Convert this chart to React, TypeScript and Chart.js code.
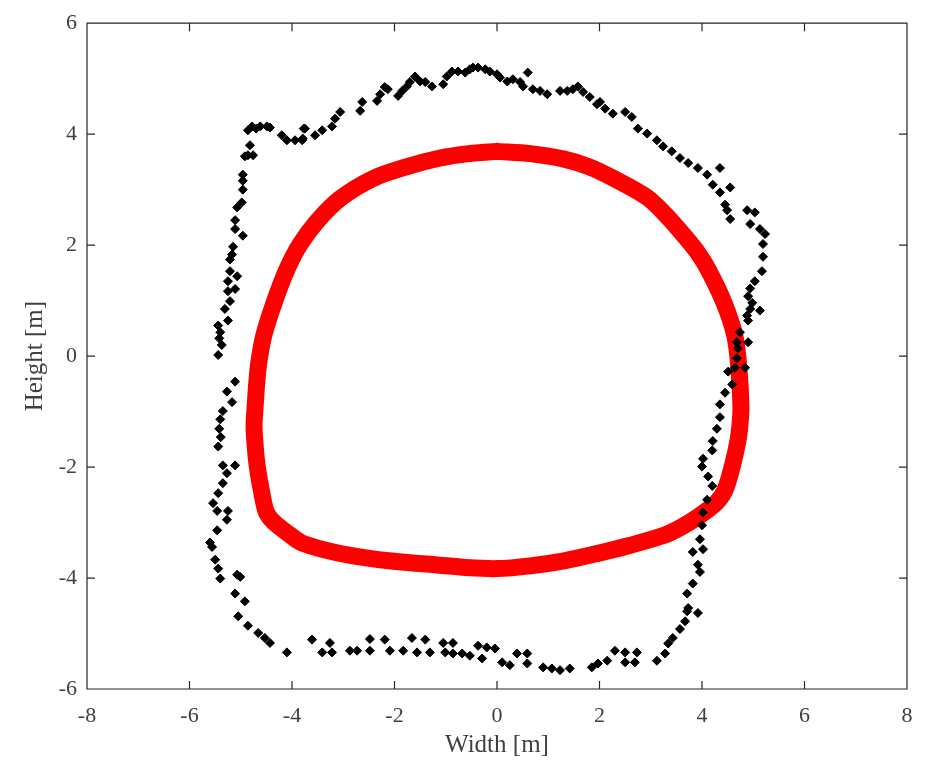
import React, { useEffect, useRef } from "react";
import { Chart, registerables } from "chart.js";

Chart.register(...registerables);

// Measured boundary points (black markers), width [m]
const measuredX: number[] = [
  -4.86, -4.78, -4.70, -4.62, -4.49, -4.43, -4.20, -4.10, -3.94, -3.80, -3.77, -3.55,
  -4.82, -4.86, -4.92, -4.76, -4.96, -4.96, -4.96, -4.98, -5.07, -5.11, -5.11, -4.96,
  -5.15, -5.17, -5.21, -5.21, -5.07, -5.25, -5.25, -5.11, -5.21, -5.31, -5.25, -5.44,
  -5.40, -5.42, -5.37, -5.44, -5.11, -5.27, -5.17, -5.35, -5.40, -5.42, -5.39, -5.44,
  -5.35, -5.11, -5.27, -5.35, -5.44, -5.54, -5.46, -5.25, -5.27, -5.46, -5.60, -5.56,
  -5.50, -5.44, -5.40, -5.07, -5.01, -5.11, -4.92, -5.05, -4.86, -4.66, -4.53, -4.43,
  -4.10,
  -3.61, -3.41, -3.26, -3.22, -2.87, -2.73, -2.48, -2.48, -2.19, -2.09, -1.83, -1.66,
  -1.56, -1.40, -1.31, -1.05, -1.01, -0.86, -0.86, -0.68, -0.53, -0.37, -0.29, -0.20,
  -0.04, 0.10, 0.25, 0.39, 0.59, 0.59, 0.90, 1.07, 1.23, 1.42, 1.85, 1.97,
  2.15, 2.30, 2.50, 2.50, 2.73, 2.69, 3.12, 3.28, 3.34, 3.43, 3.57, 3.67,
  3.71, 3.73,
  3.92, 3.71, 3.82, 3.96, 3.92, 3.82, 4.02, 3.96, 4.00, 4.02, 4.10, 4.20,
  4.12, 4.00, 4.02, 4.20, 4.21, 4.29, 4.35, 4.35, 4.45, 4.59, 4.51, 4.64,
  4.84, 4.68, 4.70, 4.68, 4.90, 4.74, 4.90, 4.94, 5.13,
  4.88, 4.98, 4.90, 4.94, 5.03, 5.17, 5.19, 5.19, 5.23, 5.13, 4.94, 5.03,
  4.88, 4.55, 4.49, 4.45, 4.55, 4.35, 4.21, 4.35, 4.10, 3.92, 3.73, 3.57,
  3.41, 3.24, 3.12, 2.93, 2.75, 2.63, 2.50, 2.26, 2.01,
  2.11, 1.95, 1.81, 1.68, 1.58, 1.48, 1.37, 1.23, 0.98, 0.84, 0.70, 0.51,
  0.60, 0.45, 0.31, 0.20, 0.06, 0.00, -0.14, -0.23, -0.37, -0.47, -0.53, -0.62,
  -0.76, -0.88, -0.98, -1.05, -1.27, -1.40, -1.50, -1.60, -1.70, -1.76, -1.85, -1.93,
  -2.13, -2.19, -2.28, -2.34, -2.63, -2.67, -3.06, -3.16, -3.22, -3.41, -3.75, -3.79,
];

// Measured boundary points (black markers), height [m]
const measuredY: number[] = [
  4.07, 4.14, 4.10, 4.14, 4.14, 4.12, 3.98, 3.89, 3.89, 3.89, 4.10, 3.98,
  3.80, 3.62, 3.60, 3.62, 3.27, 3.16, 3.00, 2.77, 2.68, 2.45, 2.29, 2.17,
  1.97, 1.83, 1.74, 1.53, 1.44, 1.35, 1.17, 1.21, 0.99, 0.85, 0.64, 0.55,
  0.43, 0.32, 0.20, 0.02, -0.46, -0.64, -0.83, -0.99, -1.14, -1.31, -1.46, -1.63,
  -1.97, -1.97, -2.11, -2.29, -2.47, -2.65, -2.79, -2.79, -2.95, -3.14, -3.36, -3.44,
  -3.67, -3.83, -4.01, -3.94, -3.98, -4.28, -4.42, -4.69, -4.86, -4.99, -5.08, -5.17,
  -5.34,
  -5.11, -5.34, -5.17, -5.34, -5.31, -5.31, -5.10, -5.31, -5.11, -5.31, -5.31, -5.08,
  -5.34, -5.11, -5.34, -5.17, -5.34, -5.17, -5.36, -5.36, -5.40, -5.22, -5.45, -5.25,
  -5.27, -5.52, -5.57, -5.36, -5.36, -5.54, -5.61, -5.63, -5.66, -5.63, -5.61, -5.54,
  -5.49, -5.31, -5.34, -5.52, -5.34, -5.52, -5.49, -5.36, -5.18, -5.08, -4.92, -4.78,
  -4.60, -4.54,
  -4.63, -4.28, -4.10, -3.89, -3.76, -3.53, -3.48, -3.30, -3.05, -2.82, -2.59, -2.34,
  -2.17, -1.99, -1.85, -1.70, -1.53, -1.31, -1.10, -0.87, -0.66, -0.51, -0.28, -0.21,
  -0.21, -0.04, 0.14, 0.25, 0.25, 0.43, 0.64, 0.85, 0.82,
  0.73, 0.96, 1.08, 1.22, 1.35, 1.53, 1.79, 2.02, 2.20, 2.29, 2.38, 2.59,
  2.63, 2.47, 2.63, 2.73, 3.04, 2.95, 3.09, 3.39, 3.27, 3.39, 3.48, 3.57,
  3.69, 3.78, 3.89, 4.01, 4.10, 4.31, 4.40, 4.37, 4.58,
  4.46, 4.54, 4.67, 4.76, 4.86, 4.81, 4.78, 4.78, 4.72, 4.78, 4.81, 4.86,
  5.11, 4.94, 4.99, 4.95, 5.02, 5.08, 5.13, 5.17, 5.20, 5.20, 5.17, 5.11,
  5.13, 5.13, 5.04, 4.90, 4.86, 4.94, 4.95, 5.04, 4.94, 4.86, 4.78, 4.69,
  4.81, 4.85, 4.72, 4.60, 4.58, 4.42, 4.40, 4.28, 4.14, 4.07, 4.10, 3.92,
];

// Design profile (red band), width [m]
const profileX: number[] = [
  0.00, 0.65, 1.31, 1.80, 2.28, 2.93, 3.32, 3.67, 3.92, 4.12, 4.43, 4.64,
  4.72, 4.76, 4.74, 4.70, 4.60, 4.45, 4.27, 3.90, 3.60, 3.26, 2.60, 1.95,
  1.31, 0.65, 0.00, -0.60, -1.21, -1.87, -2.52, -3.15, -3.80, -4.03, -4.23, -4.40,
  -4.51, -4.60, -4.66, -4.70, -4.74, -4.72, -4.66, -4.55, -4.35, -4.10, -3.84, -3.51,
  -3.06, -2.42, -1.77, -1.11, -0.55, 0.00,
];

// Design profile (red band), height [m]
const profileY: number[] = [
  3.69, 3.65, 3.55, 3.41, 3.20, 2.86, 2.52, 2.15, 1.86, 1.56, 0.96, 0.37,
  -0.21, -0.92, -1.25, -1.53, -1.95, -2.41, -2.65, -2.91, -3.08, -3.23, -3.41, -3.56,
  -3.69, -3.78, -3.83, -3.81, -3.76, -3.71, -3.64, -3.54, -3.37, -3.23, -3.09, -2.95,
  -2.79, -2.41, -2.10, -1.81, -1.30, -0.92, -0.21, 0.37, 0.96, 1.56, 2.02, 2.43,
  2.84, 3.20, 3.41, 3.57, 3.65, 3.69,
];

const xTicks: number[] = [-8, -6, -4, -2, 0, 2, 4, 6, 8];
const yTicks: number[] = [-6, -4, -2, 0, 2, 4, 6];

const AXIS_COLOR = "#262626";
const TEXT_COLOR = "#404040";
const SERIF = "'Liberation Serif', 'Times New Roman', serif";

const framePlugin = {
  id: "matlabFrame",
  afterDatasetsDraw(chart: any) {
    const { ctx, chartArea } = chart;
    const { left, right, top, bottom } = chartArea;
    const xs = chart.scales.x;
    const ys = chart.scales.y;
    const tl = 8;
    ctx.save();
    ctx.strokeStyle = AXIS_COLOR;
    ctx.lineWidth = 1.2;
    ctx.beginPath();
    ctx.rect(left, top, right - left, bottom - top);
    for (const t of xTicks) {
      const px = xs.getPixelForValue(t);
      ctx.moveTo(px, bottom);
      ctx.lineTo(px, bottom - tl);
      ctx.moveTo(px, top);
      ctx.lineTo(px, top + tl);
    }
    for (const t of yTicks) {
      const py = ys.getPixelForValue(t);
      ctx.moveTo(left, py);
      ctx.lineTo(left + tl, py);
      ctx.moveTo(right, py);
      ctx.lineTo(right - tl, py);
    }
    ctx.stroke();
    ctx.restore();
  },
};

export default function App() {
  const canvasRef = useRef<HTMLCanvasElement | null>(null);

  useEffect(() => {
    const canvas = canvasRef.current;
    if (!canvas) return;
    const measured = measuredX.map((x, i) => ({ x, y: measuredY[i] }));
    const profile = profileX.map((x, i) => ({ x, y: profileY[i] }));

    const chart = new Chart(canvas, {
      type: "scatter",
      data: {
        datasets: [
          {
            label: "Measured",
            data: measured,
            pointStyle: "rectRot",
            pointRadius: 4.5,
            backgroundColor: "#000000",
            borderColor: "#000000",
            borderWidth: 1,
            showLine: false,
          },
          {
            label: "Profile",
            data: profile,
            showLine: true,
            pointRadius: 0,
            borderColor: "#ff0000",
            backgroundColor: "#ff0000",
            borderWidth: 17,
            tension: 0.3,
            borderJoinStyle: "round",
            borderCapStyle: "round",
            fill: false,
          },
        ],
      },
      options: {
        responsive: false,
        animation: false,
        devicePixelRatio: 1,
        layout: { padding: { left: 0, top: 13, right: 20, bottom: 0 } },
        plugins: {
          legend: { display: false },
          tooltip: { enabled: false },
        },
        scales: {
          x: {
            type: "linear",
            min: -8,
            max: 8,
            afterBuildTicks: (scale: any) => {
              scale.ticks = xTicks.map((v) => ({ value: v }));
            },
            afterFit: (scale: any) => {
              scale.height = 79;
            },
            grid: { display: false, drawTicks: false },
            border: { display: false },
            ticks: {
              padding: 14,
              color: TEXT_COLOR,
              font: { family: SERIF, size: 22 },
              maxRotation: 0,
            },
            title: {
              display: true,
              text: "Width [m]",
              color: TEXT_COLOR,
              font: { family: SERIF, size: 25 },
              padding: { top: 0, bottom: 8 },
            },
          },
          y: {
            type: "linear",
            min: -6,
            max: 6,
            afterBuildTicks: (scale: any) => {
              scale.ticks = yTicks.map((v) => ({ value: v }));
            },
            afterFit: (scale: any) => {
              scale.width = 87;
            },
            grid: { display: false, drawTicks: false },
            border: { display: false },
            ticks: {
              padding: 10,
              color: TEXT_COLOR,
              font: { family: SERIF, size: 22 },
            },
            title: {
              display: true,
              text: "Height [m]",
              color: TEXT_COLOR,
              font: { family: SERIF, size: 25 },
              padding: { top: 20, bottom: 0 },
            },
          },
        },
      },
      plugins: [framePlugin],
    });

    return () => {
      chart.destroy();
    };
  }, []);

  return (
    <div style={{ position: "fixed", left: 0, top: 0, width: 927, height: 768, background: "#ffffff" }}>
      <canvas ref={canvasRef} width={927} height={768} style={{ display: "block" }} />
    </div>
  );
}
